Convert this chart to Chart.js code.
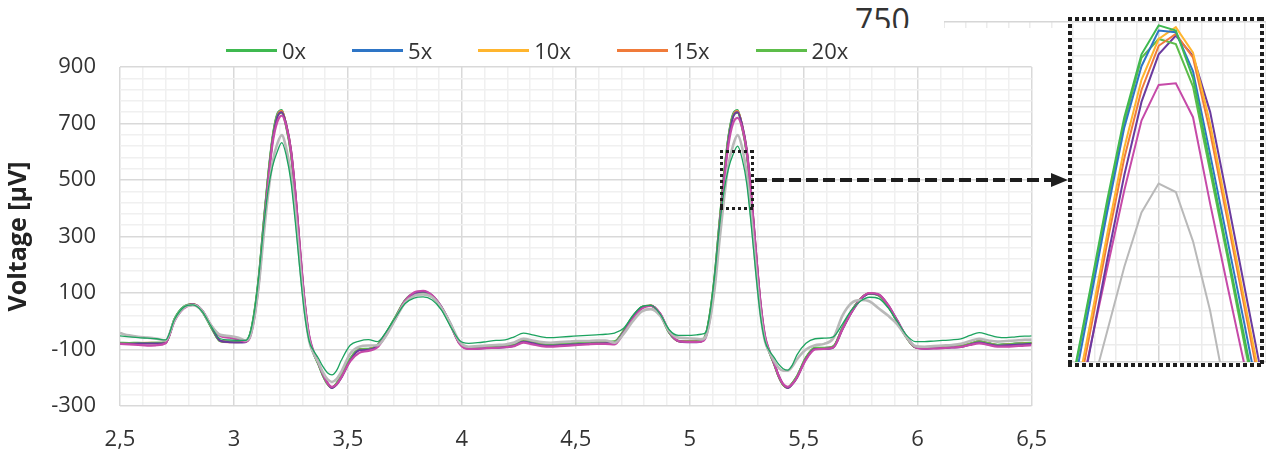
<!DOCTYPE html>
<html>
<head>
<meta charset="utf-8">
<script src="https://cdn.jsdelivr.net/npm/chart.js@4.4.1/dist/chart.umd.min.js"></script>
<style>
  body { margin: 0; background: #fff; font-family: 'Open Sans', sans-serif; }
  #page { position: relative; width: 1266px; height: 457px; overflow: hidden; background: #fff; }
  #insetWrap { position: absolute; left: 944px; top: 0; }
  #lbl750 { position: absolute; left: 855px; top: 0; height: 28px; overflow: hidden; font-size: 32px; line-height: 32px; color: #333; }
  #lbl750 span { position: relative; top: 4px; }
  #mainWrap { position: absolute; left: 0; top: 28px; width: 1068px; height: 429px; background: #fff; }
  #legend { position: absolute; left: 226px; top: 39px; display: flex; gap: 46px; font-size: 22px; line-height: 22px; color: #333; }
  #legend .item { display: flex; align-items: center; }
  #legend .swatch { width: 51px; height: 3px; margin-right: 5px; }
  .dots { position: absolute; }
  #bigBox {
    left: 1068px; top: 17px; width: 196px; height: 350px;
    background:
      repeating-linear-gradient(90deg, #1e1e1e 0 4px, transparent 4px 7px) top left / 100% 4px no-repeat,
      repeating-linear-gradient(90deg, #1e1e1e 0 4px, transparent 4px 7px) bottom left / 100% 4px no-repeat,
      repeating-linear-gradient(180deg, #1e1e1e 0 4px, transparent 4px 7px) top left / 4px 100% no-repeat,
      repeating-linear-gradient(180deg, #1e1e1e 0 4px, transparent 4px 7px) top right / 4px 100% no-repeat;
  }
  #smallBox {
    left: 720px; top: 150px; width: 34px; height: 60px;
    background:
      repeating-linear-gradient(90deg, #1e1e1e 0 3px, transparent 3px 6px) top left / 100% 3px no-repeat,
      repeating-linear-gradient(90deg, #1e1e1e 0 3px, transparent 3px 6px) bottom left / 100% 3px no-repeat,
      repeating-linear-gradient(180deg, #1e1e1e 0 3px, transparent 3px 6px) top left / 3px 100% no-repeat,
      repeating-linear-gradient(180deg, #1e1e1e 0 3px, transparent 3px 6px) top right / 3px 100% no-repeat;
  }
  #arrowLine { position: absolute; left: 755px; top: 178px; width: 296px; height: 4px;
    background: repeating-linear-gradient(90deg, #1e1e1e 0 12px, transparent 12px 17px); }
  #arrowHead { position: absolute; left: 1051px; top: 173px; width: 0; height: 0;
    border-top: 7px solid transparent; border-bottom: 7px solid transparent; border-left: 17px solid #1e1e1e; }
</style>
</head>
<body>
<div id="page">
  <div id="insetWrap"><canvas id="insetChart" width="322" height="365"></canvas></div>
  <div id="lbl750"><span>750</span></div>
  <div id="mainWrap"><canvas id="mainChart" width="1068" height="429"></canvas></div>
  <div id="legend"></div>
  <div id="smallBox" class="dots"></div>
  <div id="arrowLine"></div>
  <div id="arrowHead"></div>
  <div id="bigBox" class="dots"></div>
</div>
<script>
/* ============================================================
   ECG VOLTAGE — main trace + zoomed R peak
   ============================================================ */

// time axis [s]
const times = [
  2.50, 2.54, 2.58, 2.62, 2.66, 2.70, 2.74, 2.78, 2.82, 2.86, 2.90, 2.94, 2.98, 3.02,
  3.05, 3.07, 3.09, 3.11, 3.13, 3.15, 3.17, 3.19, 3.21, 3.23, 3.25, 3.27, 3.29, 3.31, 3.33, 3.35, 3.37, 3.39, 3.41, 3.43, 3.45, 3.47,
  3.51, 3.55, 3.59, 3.63, 3.67, 3.71, 3.75, 3.79, 3.83, 3.87, 3.91, 3.95, 3.99,
  4.03, 4.07, 4.11, 4.15, 4.19, 4.23, 4.27, 4.31, 4.35, 4.39, 4.43, 4.47, 4.51, 4.55, 4.59, 4.63, 4.67,
  4.71, 4.75, 4.79, 4.83, 4.87, 4.91, 4.95, 4.99, 5.03,
  5.05, 5.07, 5.09, 5.11, 5.13, 5.15, 5.17, 5.19, 5.21, 5.23, 5.25, 5.27, 5.29, 5.31, 5.33, 5.35, 5.37, 5.39, 5.41, 5.43, 5.45, 5.47,
  5.51, 5.55, 5.59, 5.63, 5.67, 5.71, 5.75, 5.79, 5.83, 5.87, 5.91, 5.95, 5.99,
  6.03, 6.07, 6.11, 6.15, 6.19, 6.23, 6.27, 6.31, 6.35, 6.39, 6.43, 6.47, 6.50
];

// voltages [µV]
const v0x = [
  -76, -77, -76, -78, -76, -74, 10, 52, 60, 35, -22, -70, -72, -72,
  -70, -46, 36, 168, 348, 518, 656, 734, 748, 688, 596, 432, 232, 54, -64, -116, -152, -192, -222, -236, -220, -194,
  -132, -98, -97, -84, -38, 18, 74, 99, 103, 86, 46, -14, -78,
  -94, -94, -92, -91, -89, -83, -69, -74, -81, -83, -81, -79, -77, -77, -75, -74, -72,
  -33, 17, 51, 56, 24, -41, -69, -71, -71,
  -69, -47, 36, 168, 348, 518, 656, 734, 748, 688, 596, 432, 232, 54, -64, -112, -152, -196, -226, -236, -219, -195,
  -128, -94, -94, -89, -23, 37, 81, 98, 91, 53, -2, -56, -92,
  -94, -92, -91, -89, -87, -79, -71, -77, -83, -81, -79, -77, -76
];
const v5x = [
  -78, -78, -77, -77, -77, -75, 8, 50, 60, 36, -20, -70, -73, -73,
  -72, -50, 30, 160, 340, 510, 650, 730, 745, 690, 600, 440, 240, 60, -60, -115, -150, -190, -220, -235, -222, -197,
  -135, -100, -98, -85, -40, 15, 72, 98, 104, 88, 48, -12, -78,
  -95, -95, -93, -92, -90, -85, -70, -75, -82, -84, -82, -80, -78, -78, -76, -75, -73,
  -35, 15, 50, 55, 25, -40, -70, -72, -72,
  -70, -50, 30, 160, 340, 510, 650, 730, 745, 690, 600, 440, 240, 60, -60, -110, -150, -195, -225, -235, -220, -197,
  -130, -95, -95, -90, -25, 35, 80, 98, 92, 55, 0, -55, -92,
  -95, -93, -92, -90, -88, -80, -72, -78, -84, -82, -80, -78, -77
];
const v10x = [
  -79, -78, -78, -77, -78, -76, 6, 48, 60, 38, -18, -69, -73, -74,
  -73, -53, 24, 152, 330, 502, 644, 726, 744, 694, 606, 448, 250, 68, -56, -113, -148, -188, -219, -234, -223, -199,
  -137, -101, -99, -86, -42, 13, 70, 97, 104, 89, 50, -10, -77,
  -95, -96, -94, -92, -90, -86, -71, -76, -83, -85, -83, -81, -79, -78, -77, -76, -74,
  -37, 13, 49, 55, 26, -38, -70, -73, -73,
  -71, -53, 24, 152, 330, 502, 644, 726, 744, 694, 606, 448, 250, 68, -56, -108, -149, -193, -224, -234, -221, -199,
  -132, -96, -96, -91, -27, 33, 79, 98, 93, 56, 2, -54, -91,
  -95, -94, -93, -91, -89, -81, -73, -79, -85, -83, -81, -79, -78
];
const v15x = [
  -78, -79, -77, -76, -77, -75, 7, 49, 61, 37, -19, -70, -74, -73,
  -72, -52, 27, 156, 335, 506, 647, 728, 743, 692, 603, 444, 245, 64, -58, -114, -149, -189, -220, -235, -222, -198,
  -136, -100, -99, -85, -41, 14, 71, 98, 105, 89, 49, -11, -78,
  -96, -95, -93, -92, -90, -85, -70, -75, -82, -84, -82, -80, -78, -78, -76, -75, -73,
  -36, 14, 50, 56, 25, -39, -71, -72, -72,
  -70, -52, 27, 156, 335, 506, 647, 728, 743, 692, 603, 444, 245, 64, -58, -109, -150, -194, -225, -235, -221, -198,
  -131, -95, -95, -90, -26, 34, 80, 99, 92, 55, 1, -55, -92,
  -95, -93, -92, -90, -88, -80, -72, -78, -84, -82, -80, -78, -77
];
const v20x = [
  -77, -77, -77, -77, -76, -75, 9, 51, 59, 35, -21, -71, -73, -73,
  -71, -47, 34, 165, 345, 514, 652, 728, 738, 684, 592, 430, 232, 56, -62, -115, -151, -191, -221, -234, -220, -195,
  -133, -99, -98, -85, -39, 16, 73, 98, 102, 87, 47, -13, -78,
  -95, -94, -92, -91, -89, -84, -70, -75, -82, -83, -81, -79, -77, -77, -75, -74, -72,
  -34, 16, 50, 55, 24, -40, -70, -72, -71,
  -69, -48, 34, 165, 345, 514, 652, 728, 738, 684, 592, 430, 232, 56, -62, -111, -151, -195, -225, -234, -219, -196,
  -129, -94, -95, -89, -24, 36, 80, 97, 91, 54, -1, -56, -92,
  -95, -93, -92, -90, -88, -80, -72, -78, -84, -82, -80, -78, -77
];
const v25x = [
  -80, -80, -79, -79, -79, -77, 4, 47, 60, 39, -17, -69, -74, -75,
  -74, -55, 20, 146, 324, 496, 640, 722, 740, 696, 610, 454, 256, 72, -52, -112, -147, -187, -218, -236, -225, -202,
  -140, -103, -101, -88, -44, 11, 68, 96, 105, 91, 52, -8, -76,
  -97, -97, -95, -94, -92, -87, -73, -78, -85, -87, -85, -83, -81, -80, -79, -78, -76,
  -39, 11, 48, 55, 27, -37, -71, -74, -74,
  -72, -55, 20, 146, 324, 496, 640, 722, 740, 696, 610, 454, 256, 72, -52, -106, -148, -192, -223, -236, -223, -201,
  -134, -98, -98, -93, -29, 31, 77, 98, 94, 58, 4, -52, -91,
  -97, -96, -95, -93, -91, -83, -75, -81, -87, -85, -83, -81, -80
];
const v30x = [
  -80, -82, -84, -86, -85, -78, 2, 45, 58, 38, -15, -52, -58, -65,
  -72, -58, 15, 140, 318, 490, 632, 705, 728, 690, 605, 450, 255, 72, -50, -108, -145, -186, -218, -232, -224, -200,
  -142, -112, -105, -92, -45, 12, 72, 102, 108, 92, 50, -12, -80,
  -98, -97, -95, -94, -92, -88, -76, -82, -88, -90, -88, -86, -84, -82, -80, -80, -82,
  -42, 8, 45, 54, 28, -36, -70, -73, -73,
  -72, -58, 15, 140, 318, 488, 625, 700, 720, 685, 600, 445, 250, 70, -50, -106, -148, -192, -222, -232, -222, -200,
  -136, -100, -98, -93, -28, 32, 80, 100, 95, 58, 3, -54, -92,
  -97, -96, -95, -93, -91, -84, -78, -84, -90, -90, -88, -86, -85
];
const v35x = [
  -42, -50, -55, -58, -62, -68, 5, 48, 57, 38, -15, -48, -52, -58,
  -68, -55, 15, 135, 300, 450, 565, 628, 659, 610, 520, 380, 200, 40, -70, -115, -145, -180, -205, -215, -205, -180,
  -115, -90, -86, -85, -48, 10, 65, 90, 95, 85, 48, -8, -72,
  -90, -88, -86, -84, -82, -75, -62, -68, -74, -76, -74, -72, -70, -70, -68, -68, -76,
  -45, 0, 35, 43, 20, -35, -58, -60, -62,
  -64, -55, 10, 120, 280, 430, 555, 622, 659, 615, 520, 370, 190, 30, -70, -110, -140, -165, -175, -175, -160, -135,
  -100, -85, -80, -60, 20, 65, 75, 70, 45, 20, -10, -55, -88,
  -90, -88, -86, -84, -80, -70, -62, -68, -72, -70, -68, -66, -65
];
const v40x = [
  -52, -55, -58, -60, -62, -66, 8, 50, 58, 35, -18, -62, -66, -68,
  -68, -45, 35, 165, 330, 465, 550, 600, 632, 585, 495, 345, 175, 25, -70, -105, -130, -160, -182, -190, -175, -140,
  -85, -70, -65, -72, -35, 15, 62, 82, 86, 75, 40, -18, -68,
  -78, -76, -72, -68, -66, -55, -42, -48, -55, -58, -56, -54, -52, -50, -48, -46, -42,
  -25, 20, 52, 56, 25, -30, -50, -50, -48,
  -46, -40, 35, 165, 330, 460, 540, 590, 620, 575, 488, 338, 170, 20, -70, -105, -128, -152, -168, -173, -155, -120,
  -78, -62, -60, -55, -10, 40, 72, 85, 80, 48, 0, -48, -72,
  -72, -70, -68, -66, -62, -50, -40, -48, -56, -58, -55, -53, -52
];

// zoomed R peak (inset)
const insetTimes = [5.12, 5.136, 5.152, 5.168, 5.184, 5.2, 5.216, 5.232, 5.248, 5.264, 5.28, 5.296];
const in0x  = [540, 592, 645, 694, 731, 748, 745, 717, 666, 615, 564, 513];
const in5x  = [532, 585, 638, 688, 724, 745, 744, 721, 672, 622, 572, 520];
const in10x = [520, 572, 625, 676, 716, 740, 747, 732, 690, 638, 586, 535];
const in15x = [515, 567, 620, 670, 710, 736, 743, 729, 685, 634, 582, 530];
const in20x = [538, 590, 642, 691, 729, 740, 737, 712, 662, 612, 560, 510];
const in25x = [505, 557, 610, 660, 703, 731, 742, 730, 697, 646, 594, 542];
const in30x = [510, 558, 605, 651, 692, 713, 714, 694, 643, 595, 548, 500];
const in35x = [480, 530, 568, 606, 638, 655, 650, 621, 580, 527, 480, 440];

const legendLabels = ['0x', '5x', '10x', '15x', '20x'];
const xTickLabels = ['2,5', '3', '3,5', '4', '4,5', '5', '5,5', '6', '6,5'];
const yTickLabels = ['-300', '-100', '100', '300', '500', '700', '900'];

const COLORS = {
  g0: '#3fb950', blue: '#2e75c6', yellow: '#ffb52e', orange: '#f07b3a', g20: '#5dbd4a',
  purple: '#6b3a9e', magenta: '#c64aa8', gray: '#b9b9b9', teal: '#1ca35f'
};

Chart.defaults.font.family = "'Open Sans', sans-serif";
Chart.defaults.color = '#333';

function series(label, values, color, width) {
  return {
    label,
    data: times.map((t, i) => ({ x: t, y: values[i] })),
    borderColor: color,
    backgroundColor: color,
    borderWidth: width,
    pointRadius: 0,
    cubicInterpolationMode: 'monotone',
    fill: false
  };
}

function insetSeries(label, values, color) {
  return {
    label,
    data: insetTimes.map((t, i) => ({ x: t, y: values[i] })),
    borderColor: color,
    borderWidth: 2,
    pointRadius: 0,
    tension: 0,
    fill: false
  };
}

const mainSets = [
  series('0x', v0x, COLORS.g0, 2),
  series('5x', v5x, COLORS.blue, 2),
  series('10x', v10x, COLORS.yellow, 2),
  series('15x', v15x, COLORS.orange, 2),
  series('20x', v20x, COLORS.g20, 2),
  series('25x', v25x, COLORS.purple, 2),
  series('30x', v30x, COLORS.magenta, 2.2),
  series('35x', v35x, COLORS.gray, 2.6),
  series('40x', v40x, COLORS.teal, 1.3)
];
// later series on top, like the spreadsheet
mainSets.forEach((d, i) => { d.order = mainSets.length - i; });

const fmt = v => String(Math.round(v * 10) / 10).replace('.', ',');

new Chart(document.getElementById('mainChart'), {
  type: 'line',
  data: { datasets: mainSets },
  options: {
    responsive: false,
    animation: false,
    layout: { padding: { left: 0, right: 36, top: 39, bottom: 0 } },
    plugins: { legend: { display: false }, tooltip: { enabled: false } },
    scales: {
      x: {
        type: 'linear', min: 2.5, max: 6.5,
        border: { display: false },
        grid: {
          drawTicks: false,
          lineWidth: 1.5,
          color: ctx => (ctx.tick && xTickLabels.includes(fmt(ctx.tick.value))) ? '#d9d9d9' : '#f0f0f0'
        },
        ticks: {
          stepSize: 0.1, autoSkip: false, maxRotation: 0, padding: 21,
          font: { size: 22 },
          callback: v => xTickLabels.includes(fmt(v)) ? fmt(v) : ''
        },
        afterFit: s => { s.height = 51; }
      },
      y: {
        min: -300, max: 900,
        border: { display: false },
        grid: {
          drawTicks: false,
          lineWidth: 1.5,
          color: ctx => (ctx.tick && yTickLabels.includes(String(ctx.tick.value))) ? '#d9d9d9' : '#f0f0f0'
        },
        ticks: {
          stepSize: 40, autoSkip: false, padding: 24,
          font: { size: 22 },
          callback: v => yTickLabels.includes(String(v)) ? String(v) : ''
        },
        title: {
          display: true, text: 'Voltage [µV]', color: '#222',
          font: { size: 25, weight: 'bold' }, padding: { top: 4, bottom: 0 }
        },
        afterFit: s => { s.width = 120; }
      }
    }
  }
});

// legend (only the first five runs are listed)
const legendEl = document.getElementById('legend');
legendEl.innerHTML = legendLabels.map(l => {
  const ds = mainSets.find(d => d.label === l);
  return `<div class="item"><div class="swatch" style="background:${ds.borderColor}"></div><span>${l}</span></div>`;
}).join('');

new Chart(document.getElementById('insetChart'), {
  type: 'line',
  data: {
    datasets: [
      insetSeries('0x', in0x, COLORS.g0),
      insetSeries('5x', in5x, COLORS.blue),
      insetSeries('10x', in10x, COLORS.yellow),
      insetSeries('15x', in15x, COLORS.orange),
      insetSeries('20x', in20x, COLORS.g20),
      insetSeries('25x', in25x, COLORS.purple),
      insetSeries('30x', in30x, COLORS.magenta),
      insetSeries('35x', in35x, COLORS.gray)
    ]
  },
  options: {
    responsive: false,
    animation: false,
    layout: { padding: { left: 0, right: 0, top: 22, bottom: 3 } },
    plugins: { legend: { display: false }, tooltip: { enabled: false } },
    scales: {
      x: {
        type: 'linear', min: 5.0, max: 5.3,
        border: { display: false },
        grid: {
          drawTicks: false, lineWidth: 1.5,
          color: ctx => (ctx.tick && Math.round(ctx.tick.value * 100) % 20 === 0) ? '#d6d6d6' : '#ececec'
        },
        ticks: { display: false, stepSize: 0.02, autoSkip: false },
        afterFit: s => { s.height = 0; }
      },
      y: {
        min: 550, max: 750,
        border: { display: false },
        grid: {
          drawTicks: false, lineWidth: 1.5,
          color: ctx => (ctx.tick && ctx.tick.value % 50 === 0) ? '#d6d6d6' : '#ececec'
        },
        ticks: { display: false, stepSize: 10, autoSkip: false },
        afterFit: s => { s.width = 0; }
      }
    }
  }
});
</script>
</body>
</html>
